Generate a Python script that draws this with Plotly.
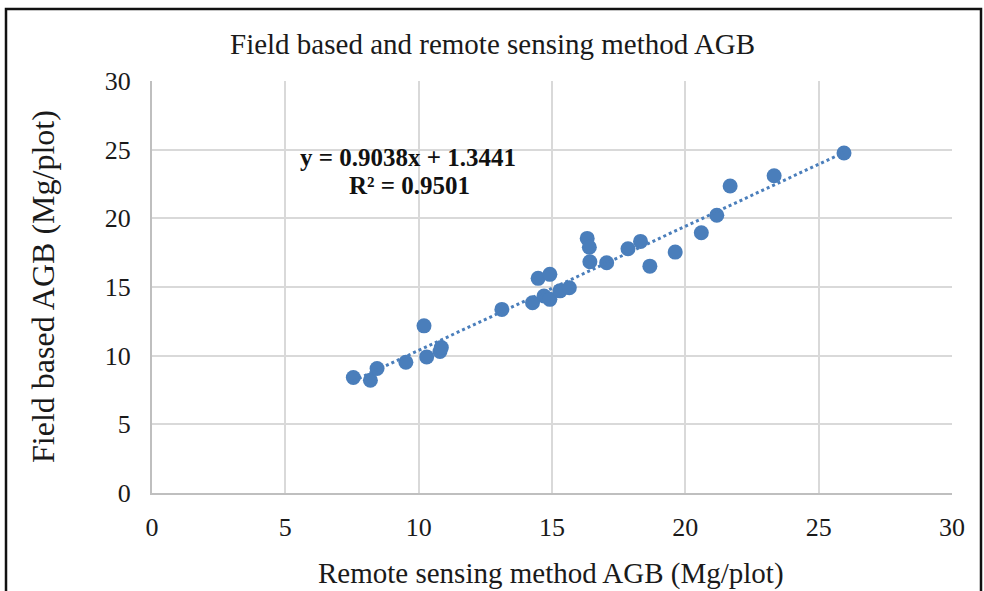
import plotly.graph_objects as go

# Data
remote_agb = [7.55, 8.19, 8.44, 9.52, 10.2, 10.3, 10.8, 10.85, 13.12, 14.27,
              14.48, 14.92, 14.7, 14.92, 15.3, 15.65, 16.32, 16.4, 16.42, 17.05,
              17.85, 18.32, 18.67, 19.62, 20.6, 21.18, 21.68, 23.33, 25.95]
field_agb = [8.41, 8.21, 9.07, 9.52, 12.17, 9.91, 10.3, 10.6, 13.37, 13.85,
             15.63, 15.92, 14.34, 14.1, 14.72, 14.94, 18.54, 17.89, 16.84, 16.77,
             17.78, 18.32, 16.52, 17.54, 18.95, 20.22, 22.35, 23.1, 24.76]
slope = 0.9038
intercept = 1.3441
r_squared = 0.9501
axis_ticks = [0, 5, 10, 15, 20, 25, 30]

title_text = "Field based and remote sensing method AGB"
x_title = "Remote sensing method AGB (Mg/plot)"
y_title = "Field based AGB (Mg/plot)"

blue = "#4A7EBB"
serif = "Liberation Serif, Times New Roman, serif"
text_color = "#1a1a1a"

trend_x = [min(remote_agb), max(remote_agb)]
trend_y = [slope * v + intercept for v in trend_x]

fig = go.Figure()
fig.add_trace(go.Scatter(
    x=remote_agb, y=field_agb, mode="markers",
    marker=dict(size=15, color=blue, line=dict(width=0)),
    showlegend=False, hoverinfo="x+y"))
fig.add_trace(go.Scatter(
    x=trend_x, y=trend_y, mode="lines",
    line=dict(color=blue, width=3, dash="dot"),
    showlegend=False, hoverinfo="skip"))

axis_common = dict(
    range=[0, 30], tickvals=axis_ticks, ticktext=[str(t) for t in axis_ticks],
    showgrid=True, gridcolor="#D9D9D9", gridwidth=1.5,
    zeroline=False, showline=True, linecolor="#BFBFBF", linewidth=2,
    ticks="outside", tickcolor="rgba(0,0,0,0)",
    tickfont=dict(family=serif, size=26, color=text_color),
    fixedrange=True,
)
fig.update_xaxes(**axis_common, ticklen=10)
fig.update_yaxes(**axis_common, ticklen=14)

L, R, T, B = 152, 32, 81, 98
W, H = 984, 591
pw = W - L - R
ph = H - T - B

def px(xp):
    return (xp - L) / pw

def py(yp):
    return (H - B - yp) / ph

annotations = [
    dict(text=title_text, x=px(492), y=py(44), xref="paper", yref="paper",
         showarrow=False, xanchor="center", yanchor="middle",
         font=dict(family=serif, size=29, color=text_color)),
    dict(text=x_title, x=px(551), y=py(573), xref="paper", yref="paper",
         showarrow=False, xanchor="center", yanchor="middle",
         font=dict(family=serif, size=29, color=text_color)),
    dict(text=y_title, x=px(43), y=py(287), xref="paper", yref="paper",
         showarrow=False, xanchor="center", yanchor="middle", textangle=-90,
         font=dict(family=serif, size=32, color=text_color)),
    dict(text="<b>y = %.4fx + %.4f</b>" % (slope, intercept), x=px(408), y=py(157),
         xref="paper", yref="paper", showarrow=False, xanchor="center", yanchor="middle",
         font=dict(family=serif, size=25, color="#111111")),
    dict(text="<b>R² = %.4f</b>" % r_squared, x=px(409), y=py(185),
         xref="paper", yref="paper", showarrow=False, xanchor="center", yanchor="middle",
         font=dict(family=serif, size=25, color="#111111")),
]

shapes = [
    dict(type="rect", xref="paper", yref="paper",
         x0=px(6), x1=px(981), y0=py(620), y1=py(9),
         line=dict(color="#111111", width=2.5), fillcolor="rgba(0,0,0,0)", layer="above"),
]

fig.update_layout(
    width=W, height=H,
    margin=dict(l=L, r=R, t=T, b=B),
    paper_bgcolor="white", plot_bgcolor="white",
    annotations=annotations, shapes=shapes,
    showlegend=False,
)

fig.write_html("out.html")
